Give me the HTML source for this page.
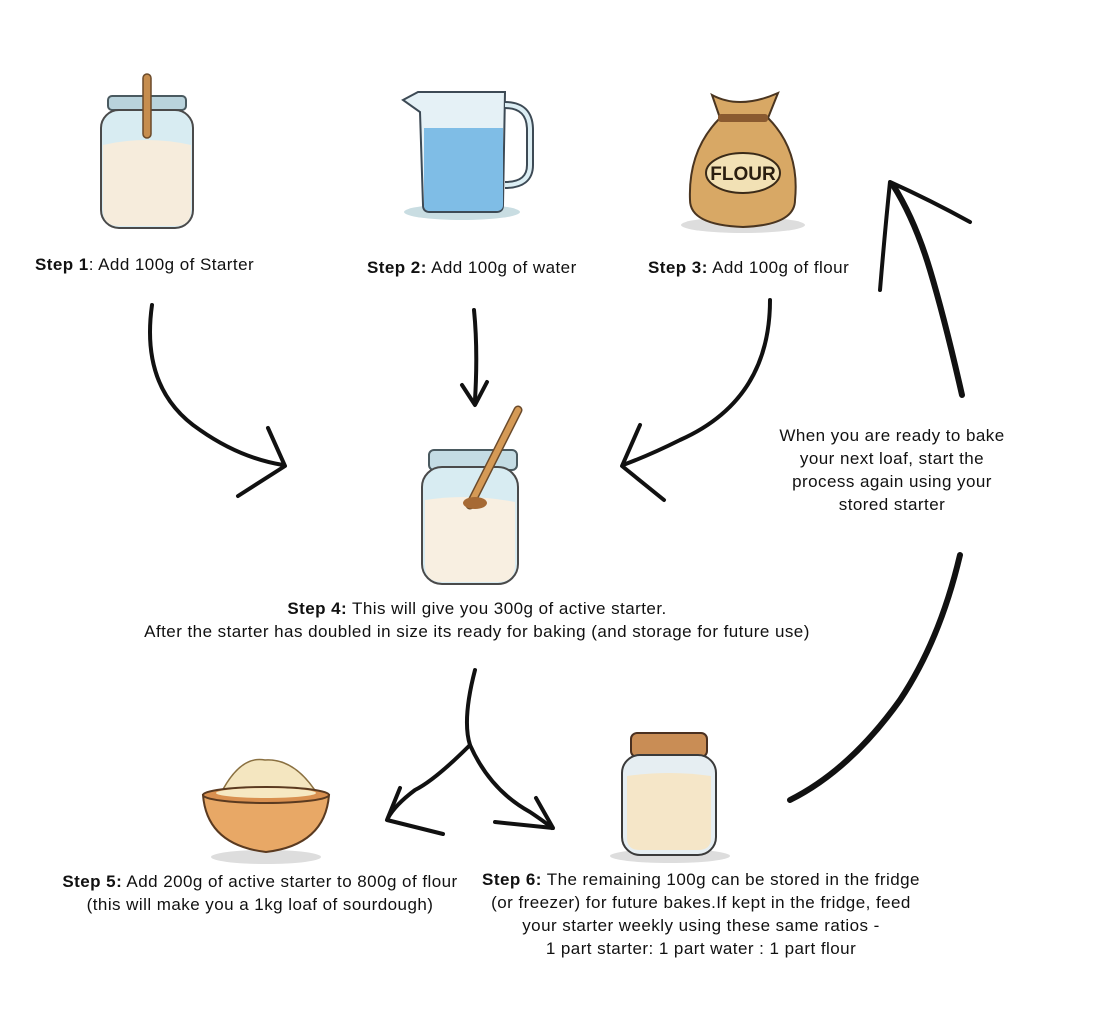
<!DOCTYPE html>
<html><head><meta charset="utf-8"><style>
html,body{margin:0;padding:0;background:#fff;}
body{width:1109px;height:1018px;position:relative;overflow:hidden;font-family:"Liberation Sans",sans-serif;color:#111;font-size:17px;letter-spacing:0.45px;}
.t{position:absolute;line-height:23px;white-space:nowrap;}
.c{text-align:center;}
b{font-weight:bold;}
svg{position:absolute;left:0;top:0;}
</style></head><body>
<svg width="1109" height="1018" viewBox="0 0 1109 1018">
<g>
<rect x="108" y="96" width="78" height="14" rx="4" fill="#b9d3dc" stroke="#4a5a60" stroke-width="2"/>
<rect x="101" y="110" width="92" height="118" rx="18" fill="#d8ecf2" stroke="#4a4a4a" stroke-width="2"/>
<path d="M103 145 Q147 135 191 145 L191 210 Q191 226 175 226 L119 226 Q103 226 103 210Z" fill="#f6ecdc"/>
<rect x="143" y="74" width="8" height="64" rx="4" fill="#c68d4e" stroke="#6b4a2a" stroke-width="1.5"/>
</g>
<g>
<ellipse cx="462" cy="212" rx="58" ry="8" fill="#c9dde2"/>
<path d="M403 100 L418 92 L505 92 L503 205 Q503 212 496 212 L430 212 Q423 212 423 205 L420 112Z" fill="#e5f1f6" stroke="#3d4a55" stroke-width="2"/>
<path d="M424 128 L503 128 L503 205 Q503 211 496 211 L430 211 Q424 211 424 205Z" fill="#7fbde6"/>
<path d="M505 105 Q530 105 530 130 L530 165 Q530 185 505 185" fill="none" stroke="#3d4a55" stroke-width="8"/>
<path d="M505 105 Q530 105 530 130 L530 165 Q530 185 505 185" fill="none" stroke="#dceef4" stroke-width="4"/>
</g>
<g>
<ellipse cx="743" cy="225" rx="62" ry="8" fill="#ddd"/>
<path d="M712 95 Q740 110 778 93 L768 118 Q800 150 795 200 Q795 225 743 227 Q690 225 690 200 Q688 150 720 118Z" fill="#d8a865" stroke="#4a3520" stroke-width="2"/>
<rect x="718" y="114" width="50" height="8" rx="3" fill="#8a5a30"/>
<ellipse cx="743" cy="173" rx="37" ry="20" fill="#f2e1b5" stroke="#3a2a18" stroke-width="2"/>
<text x="743" y="180" font-family="Liberation Sans" font-weight="bold" font-size="19" text-anchor="middle" fill="#2a1e10" letter-spacing="0">FLOUR</text>
</g>
<g>
<rect x="429" y="450" width="88" height="20" rx="5" fill="#c4dce4" stroke="#4a5a60" stroke-width="2"/>
<rect x="422" y="467" width="96" height="117" rx="20" fill="#d8ecf2" stroke="#4a4a4a" stroke-width="2"/>
<path d="M425 500 Q470 493 515 502 L515 565 Q515 582 498 582 L442 582 Q425 582 425 565Z" fill="#f8efe1"/>
<path d="M518 410 L470 505" stroke="#6b4a2a" stroke-width="9" stroke-linecap="round"/>
<path d="M518 410 L470 505" stroke="#d59a56" stroke-width="6" stroke-linecap="round"/>
<ellipse cx="475" cy="503" rx="12" ry="6" fill="#a66a35"/>
</g>
<g>
<ellipse cx="266" cy="857" rx="55" ry="7" fill="#ddd"/>
<path d="M220 795 Q240 755 265 760 Q295 758 318 795Z" fill="#f4e6c0" stroke="#8a7040" stroke-width="1.5"/>
<path d="M203 795 L329 795 Q325 845 266 852 Q207 845 203 795Z" fill="#e8a866" stroke="#5a3a20" stroke-width="2"/>
<ellipse cx="266" cy="795" rx="63" ry="8" fill="#d99050" stroke="#5a3a20" stroke-width="2"/>
<ellipse cx="266" cy="793" rx="50" ry="5" fill="#f6e8c2"/>
</g>
<g>
<ellipse cx="670" cy="856" rx="60" ry="7" fill="#ddd"/>
<rect x="631" y="733" width="76" height="24" rx="6" fill="#c98d55" stroke="#4a3020" stroke-width="2"/>
<rect x="622" y="755" width="94" height="100" rx="18" fill="#e6eef2" stroke="#3a3a3a" stroke-width="2"/>
<path d="M627 776 Q670 770 711 776 L711 838 Q711 850 698 850 L640 850 Q627 850 627 838Z" fill="#f5e6c8"/>
</g>
<g fill="none" stroke="#111" stroke-width="4" stroke-linecap="round" stroke-linejoin="round">
<path d="M152 305 Q140 390 200 430 Q240 458 283 465"/>
<path d="M268 428 L285 466 L238 496"/>
<path d="M474 310 Q478 350 475 400"/>
<path d="M462 385 L475 405 L487 382"/>
<path d="M770 300 Q770 400 680 440 Q650 455 623 465"/>
<path d="M640 425 L622 466 L664 500"/>
<path d="M475 670 Q462 720 470 745 Q435 780 415 790 Q395 805 388 818"/>
<path d="M400 788 L387 820 L443 834"/>
<path d="M470 745 Q490 790 530 812 Q545 822 552 828"/>
<path d="M495 822 L553 828 L536 798"/>
<path d="M960 555 Q940 640 900 700 Q850 770 790 800" stroke-width="6"/>
<path d="M962 395 Q945 320 930 270 Q915 220 893 185" stroke-width="6"/>
<path d="M880 290 Q885 230 890 182 Q930 200 970 222" stroke-width="4"/>
</g>
</svg>
<div class="t" style="left:35px;top:253px;"><b>Step 1</b>: Add 100g of Starter</div>
<div class="t" style="left:367px;top:256px;"><b>Step 2:</b> Add 100g of water</div>
<div class="t" style="left:648px;top:256px;"><b>Step 3:</b> Add 100g of flour</div>
<div class="t c" style="left:742px;width:300px;top:424px;">When you are ready to bake<br>your next loaf, start the<br>process again using your<br>stored starter</div>
<div class="t c" style="left:27px;width:900px;top:597px;"><b>Step 4:</b> This will give you 300g of active starter.<br>After the starter has doubled in size its ready for baking (and storage for future use)</div>
<div class="t c" style="left:10px;width:500px;top:870px;"><b>Step 5:</b> Add 200g of active starter to 800g of flour<br>(this will make you a 1kg loaf of sourdough)</div>
<div class="t c" style="left:451px;width:500px;top:868px;"><b>Step 6:</b> The remaining 100g can be stored in the fridge<br>(or freezer) for future bakes.If kept in the fridge, feed<br>your starter weekly using these same ratios -<br>1 part starter: 1 part water : 1 part flour</div>
</body></html>
